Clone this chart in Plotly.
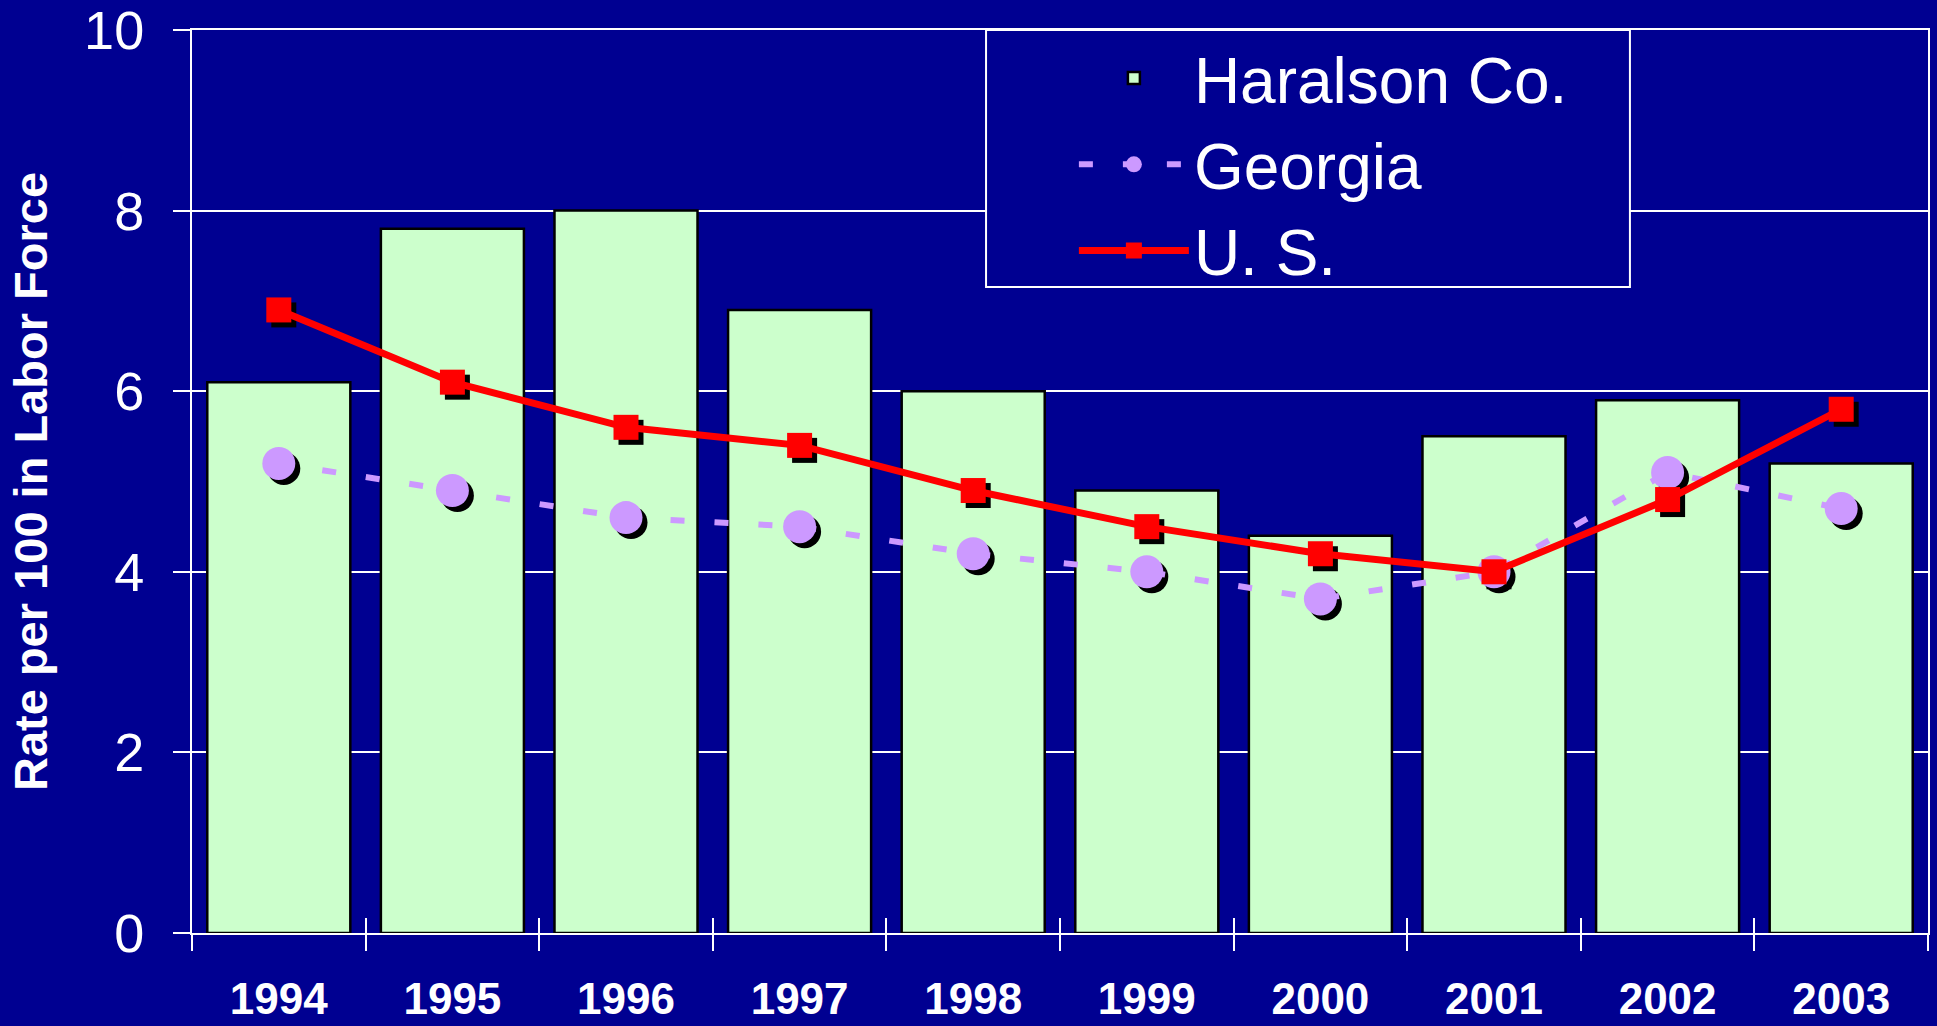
import plotly.graph_objects as go

# data
years = ['1994', '1995', '1996', '1997', '1998', '1999', '2000', '2001', '2002', '2003']
haralson = [6.1, 7.8, 8.0, 6.9, 6.0, 4.9, 4.4, 5.5, 5.9, 5.2]
georgia = [5.2, 4.9, 4.6, 4.5, 4.2, 4.0, 3.7, 4.0, 5.1, 4.7]
us = [6.9, 6.1, 5.6, 5.4, 4.9, 4.5, 4.2, 4.0, 4.8, 5.8]
y_ticks = [0, 2, 4, 6, 8, 10]

NAVY = '#000091'
BAR_GREEN = '#CCFFCC'
LAVENDER = '#CC99FF'
RED = '#FF0000'
FONT = 'Liberation Sans, Arial, sans-serif'

W, H = 1937, 1026
ML, MR, MT, MB = 192, 9, 30, 93
plot_w = W - ML - MR
plot_h = H - MT - MB
SHADOW = 5  # px offset of the marker drop shadows

fig = go.Figure()

# bars on the main subplot
fig.add_trace(go.Bar(x=years, y=haralson, name='Haralson Co.',
                     marker=dict(color=BAR_GREEN, line=dict(color='black', width=2.5)),
                     xaxis='x', yaxis='y'))

# shadows on a subplot shifted a few px right and down
fig.add_trace(go.Scatter(x=years, y=georgia, mode='markers', showlegend=False, hoverinfo='skip',
                         marker=dict(symbol='circle', size=33, color='black'),
                         xaxis='x2', yaxis='y2'))
fig.add_trace(go.Scatter(x=years, y=us, mode='markers', showlegend=False, hoverinfo='skip',
                         marker=dict(symbol='square', size=25, color='black'),
                         xaxis='x2', yaxis='y2'))

# lines and markers on top
fig.add_trace(go.Scatter(x=years, y=georgia, name='Georgia', mode='lines+markers',
                         line=dict(color=LAVENDER, width=6, dash='14px,30px'),
                         marker=dict(symbol='circle', size=33, color=LAVENDER),
                         xaxis='x3', yaxis='y3'))
fig.add_trace(go.Scatter(x=years, y=us, name='U. S.', mode='lines+markers',
                         line=dict(color=RED, width=7),
                         marker=dict(symbol='square', size=25, color=RED),
                         xaxis='x3', yaxis='y3'))

hidden = dict(visible=False, fixedrange=True, automargin=False)

fig.update_layout(
    width=W, height=H,
    margin=dict(l=ML, r=MR, t=MT, b=MB, autoexpand=False),
    paper_bgcolor=NAVY,
    plot_bgcolor='rgba(0,0,0,0)',
    bargap=0.176,
    showlegend=True,
    xaxis=dict(type='category', categoryorder='array', categoryarray=years,
               range=[-0.5, 9.5], domain=[0, 1], anchor='y', automargin=False,
               showgrid=False, showline=True, linecolor='white', linewidth=2, mirror=True,
               ticks='outside', tickson='boundaries', ticklen=16, tickwidth=2, tickcolor='white',
               tickfont=dict(family=FONT, size=44, color='white', weight='bold'),
               ticklabelstandoff=26),
    yaxis=dict(range=[0, 10], domain=[0, 1], anchor='x', tickvals=y_ticks, automargin=False,
               showgrid=True, gridcolor='white', gridwidth=2, zeroline=False,
               showline=True, linecolor='white', linewidth=2, mirror=True,
               ticks='outside', ticklen=17, tickwidth=2, tickcolor='white',
               tickfont=dict(family=FONT, size=54, color='white'),
               ticklabelstandoff=18, ticklabeloverflow='allow',
               title=dict(text='Rate per 100 in Labor Force', standoff=22,
                          font=dict(family=FONT, size=47, color='white', weight='bold'))),
    xaxis2=dict(hidden, type='category', categoryorder='array', categoryarray=years,
                domain=[SHADOW / plot_w, 1], anchor='y2',
                range=[-0.5, -0.5 + 10 * (plot_w - SHADOW) / plot_w]),
    yaxis2=dict(hidden, domain=[0, 1 - SHADOW / plot_h], anchor='x2',
                range=[10 * SHADOW / plot_h, 10]),
    xaxis3=dict(type='category', categoryorder='array', categoryarray=years,
                range=[-0.5, 9.5], domain=[0, 1], anchor='y3', automargin=False,
                showgrid=False, showline=False, showticklabels=False,
                ticks='inside', tickson='boundaries', ticklen=15, tickwidth=2, tickcolor='white'),
    yaxis3=dict(hidden, range=[0, 10], domain=[0, 1], anchor='x3'),
    legend=dict(x=0.508, y=1.0, xanchor='left', yanchor='top',
                bgcolor='rgba(0,0,0,0)', borderwidth=0, itemwidth=110,
                font=dict(family=FONT, size=64, color='white'),
                traceorder='normal'),
    shapes=[dict(type='rect', xref='paper', yref='paper',
                 x0=0.4574, x1=0.8283, y0=0.7154, y1=1.0,
                 fillcolor=NAVY, line=dict(color='white', width=2), layer='above')],
)

# drop the page's default body margin so the chart fills the window
fig.write_html('out.html', config={'displayModeBar': False},
               post_script="document.body.style.margin = '0';")
